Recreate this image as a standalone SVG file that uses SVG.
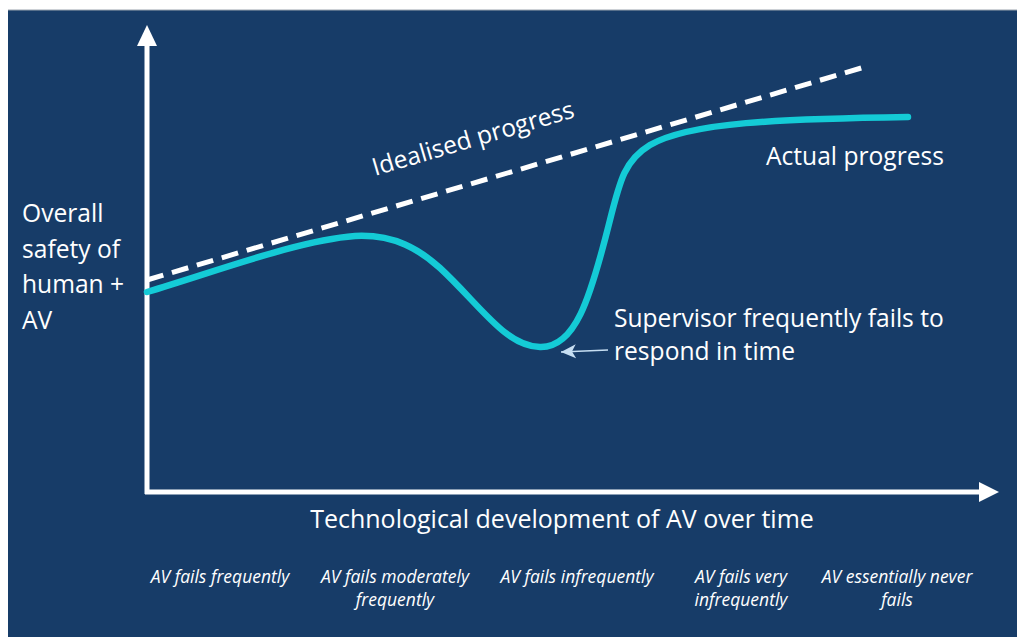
<svg xmlns="http://www.w3.org/2000/svg" width="1017" height="637" viewBox="0 0 1017 637">
<defs>
<style>
.t{font-family:"Open Sans",Lato,"Liberation Sans",sans-serif;fill:#ffffff;font-size:24.6px}
.i{font-family:"Open Sans",Lato,"Liberation Sans",sans-serif;fill:#ffffff;font-size:17.5px;font-style:italic;text-anchor:middle}
.axis{stroke:#ffffff;stroke-width:5;fill:none}
</style>
<marker id="ah" markerWidth="16" markerHeight="16" refX="15" refY="8" orient="auto" markerUnits="userSpaceOnUse">
<path d="M0,1 L15,8 L0,15 L4,8 Z" fill="#c6def2"/>
</marker>
</defs>
<rect x="0" y="0" width="1017" height="637" fill="#ffffff"/>
<rect x="8" y="10" width="1009" height="627" fill="#173c68"/>
<line x1="8" y1="10" x2="1017" y2="10" stroke="#9aa3ad" stroke-width="1"/>
<g id="connectors">
<line class="axis" x1="147" y1="494" x2="147" y2="44"/>
<path d="M137,46 L147,25 L157,46 Z" fill="#ffffff"/>
<line class="axis" x1="145" y1="492" x2="981" y2="492"/>
<path d="M979,482 L999,492 L979,502 Z" fill="#ffffff"/>
<line x1="147" y1="280" x2="868" y2="66" stroke="#ffffff" stroke-width="5" stroke-dasharray="17,9"/>
<path d="M147,292 C220,270 300,240 355,236 C395,234 420,250 440,268 C480,305 505,346 540,347 C575,348 590,300 610,220 C620,180 625,160 650,145 C690,122 780,119 908,117" fill="none" stroke="#14cbd6" stroke-width="6.5" stroke-linecap="round"/>
<line x1="608" y1="350" x2="561" y2="352" stroke="#c6def2" stroke-width="1.5" marker-end="url(#ah)"/>
</g>
<g id="y-label">
<text class="t" x="22" y="222">Overall</text>
<text class="t" x="22" y="258">safety of</text>
<text class="t" x="22" y="293">human +</text>
<text class="t" x="22" y="329">AV</text>
</g>
<g id="idealised">
<text class="t" transform="translate(375,176) rotate(-16.4)">Idealised progress</text>
</g>
<g id="actual">
<text class="t" x="766" y="165">Actual progress</text>
</g>
<g id="supervisor">
<text class="t" x="614" y="327">Supervisor frequently fails to</text>
<text class="t" x="614" y="360">respond in time</text>
</g>
<g id="x-label">
<text class="t" x="562" y="528" text-anchor="middle" style="font-size:25px">Technological development of AV over time</text>
</g>
<g id="stages">
<text class="i" x="220" y="583">AV fails frequently</text>
<text class="i" x="395" y="583">AV fails moderately</text>
<text class="i" x="395" y="606">frequently</text>
<text class="i" x="577" y="583">AV fails infrequently</text>
<text class="i" x="741" y="583">AV fails very</text>
<text class="i" x="741" y="606">infrequently</text>
<text class="i" x="897" y="583">AV essentially never</text>
<text class="i" x="897" y="606">fails</text>
</g>
</svg>
